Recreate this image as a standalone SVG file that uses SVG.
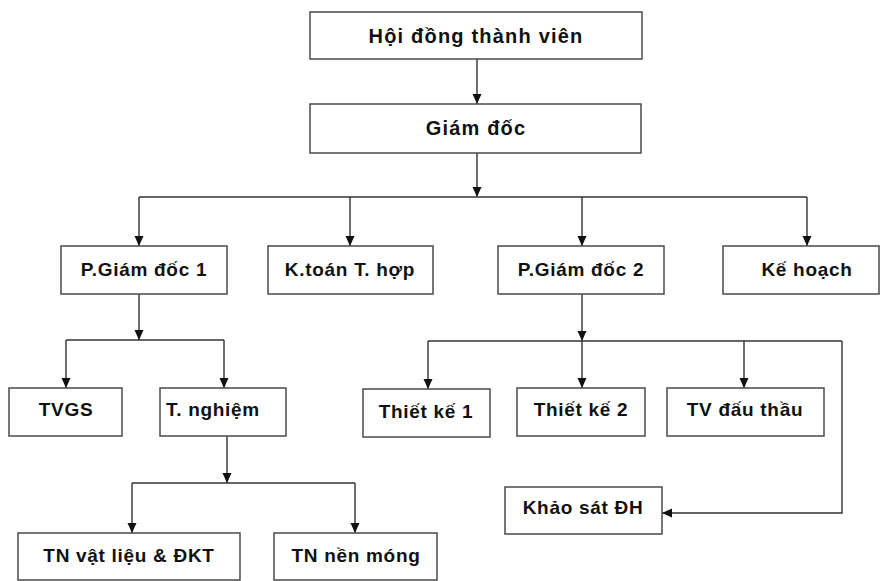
<svg xmlns="http://www.w3.org/2000/svg" width="880" height="581" viewBox="0 0 880 581">
<style>
.box{fill:#fff;stroke:#4a4a4a;stroke-width:1.5}
.t{font-family:"Liberation Sans",Arial,sans-serif;font-weight:bold;font-size:19px;letter-spacing:0.7px;fill:#111;text-anchor:middle}
.big{font-size:20px;letter-spacing:1.2px}
.c{fill:none;stroke:#333;stroke-width:1.4}
</style>
<defs>
<marker id="ah" markerUnits="userSpaceOnUse" markerWidth="10" markerHeight="10" viewBox="0 0 10 10" refX="10" refY="5" orient="auto">
<path d="M0,0.5 L10,5 L0,9.5 Z" fill="#111"/>
</marker>
</defs>
<rect width="880" height="581" fill="#fff"/>
<g id="connectors">
<path class="c" d="M477,59 V104" marker-end="url(#ah)"/>
<path class="c" d="M477,153 V197" marker-end="url(#ah)"/>
<path class="c" d="M139,197 H807"/>
<path class="c" d="M139,197 V246" marker-end="url(#ah)"/>
<path class="c" d="M350,197 V246" marker-end="url(#ah)"/>
<path class="c" d="M582,197 V246" marker-end="url(#ah)"/>
<path class="c" d="M807,197 V246" marker-end="url(#ah)"/>
<path class="c" d="M139,294 V340" marker-end="url(#ah)"/>
<path class="c" d="M66,340 H224"/>
<path class="c" d="M66,340 V388" marker-end="url(#ah)"/>
<path class="c" d="M224,340 V388" marker-end="url(#ah)"/>
<path class="c" d="M227,436 V483" marker-end="url(#ah)"/>
<path class="c" d="M132,483 H355"/>
<path class="c" d="M132,483 V533" marker-end="url(#ah)"/>
<path class="c" d="M355,483 V533" marker-end="url(#ah)"/>
<path class="c" d="M582,294 V341" marker-end="url(#ah)"/>
<path class="c" d="M582,341 V388" marker-end="url(#ah)"/>
<path class="c" d="M428,341 H842"/>
<path class="c" d="M428,341 V389" marker-end="url(#ah)"/>
<path class="c" d="M744,341 V388" marker-end="url(#ah)"/>
<path class="c" d="M842,341 V513 H662" marker-end="url(#ah)"/>
</g>
<g id="hoi-dong"><rect class="box" x="310" y="12" width="332" height="47"/><text class="t big" x="476" y="43">Hội đồng thành viên</text></g>
<g id="giam-doc"><rect class="box" x="310" y="104" width="331" height="49"/><text class="t big" x="476" y="135">Giám đốc</text></g>
<g id="pgd1"><rect class="box" x="61" y="246" width="166" height="48"/><text class="t" x="144" y="276">P.Giám đốc 1</text></g>
<g id="ktoan"><rect class="box" x="268" y="246" width="165" height="48"/><text class="t" x="350" y="276">K.toán T. hợp</text></g>
<g id="pgd2"><rect class="box" x="498" y="246" width="166" height="48"/><text class="t" x="581" y="276">P.Giám đốc 2</text></g>
<g id="ke-hoach"><rect class="box" x="723" y="246" width="156" height="48"/><text class="t" x="807" y="276">Kế hoạch</text></g>
<g id="tvgs"><rect class="box" x="9" y="388" width="113" height="48"/><text class="t" x="66" y="416">TVGS</text></g>
<g id="t-nghiem"><rect class="box" x="160" y="388" width="126" height="48"/><text class="t" x="213" y="416">T. nghiệm</text></g>
<g id="thiet-ke-1"><rect class="box" x="363" y="389" width="127" height="48"/><text class="t" x="426" y="418">Thiết kế 1</text></g>
<g id="thiet-ke-2"><rect class="box" x="517" y="388" width="128" height="48"/><text class="t" x="581" y="416">Thiết kế 2</text></g>
<g id="tv-dau-thau"><rect class="box" x="667" y="388" width="157" height="48"/><text class="t" x="745" y="416">TV đấu thầu</text></g>
<g id="khao-sat"><rect class="box" x="505" y="487" width="157" height="47"/><text class="t" x="583" y="514">Khảo sát ĐH</text></g>
<g id="tn-vat-lieu"><rect class="box" x="18" y="533" width="222" height="47"/><text class="t" x="129" y="562">TN vật liệu &amp; ĐKT</text></g>
<g id="tn-nen-mong"><rect class="box" x="274" y="533" width="163" height="47"/><text class="t" x="356" y="562">TN nền móng</text></g>
</svg>
